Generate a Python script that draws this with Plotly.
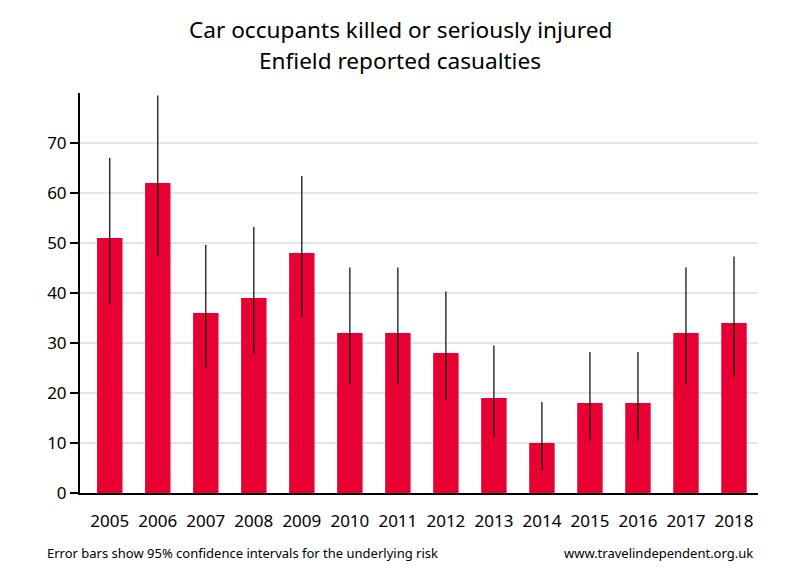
import plotly.graph_objects as go

years = ["2005", "2006", "2007", "2008", "2009", "2010", "2011", "2012",
         "2013", "2014", "2015", "2016", "2017", "2018"]
casualties = [51, 62, 36, 39, 48, 32, 32, 28, 19, 10, 18, 18, 32, 34]
ci_upper = [67.0, 79.5, 49.6, 53.2, 63.4, 45.1, 45.1, 40.3, 29.5, 18.2, 28.2, 28.2, 45.1, 47.3]
ci_lower = [37.8, 47.3, 25.1, 27.7, 35.2, 21.7, 21.7, 18.5, 11.1, 4.5, 10.5, 10.5, 21.7, 23.3]

err_plus = [u - v for u, v in zip(ci_upper, casualties)]
err_minus = [v - l for v, l in zip(casualties, ci_lower)]

FONT = "Noto Sans"

fig = go.Figure()
fig.add_trace(go.Bar(
    x=list(range(len(years))),
    y=casualties,
    width=0.53,
    marker=dict(color="#E80032", line=dict(width=0)),
    error_y=dict(type="data", symmetric=False, array=err_plus, arrayminus=err_minus,
                 color="black", thickness=1.2, width=0),
    hoverinfo="x+y",
))

fig.update_layout(
    width=800, height=580,
    margin=dict(l=72, r=50, t=85, b=95),
    paper_bgcolor="white", plot_bgcolor="white",
    showlegend=False,
    font=dict(family=FONT, color="black"),
    xaxis=dict(
        tickmode="array", tickvals=list(range(len(years))), ticktext=years,
        range=[-0.62, 13.5],
        showline=True, linecolor="black", linewidth=2,
        showgrid=False, zeroline=False,
        ticks="outside", ticklen=12, tickcolor="rgba(0,0,0,0)",
        tickfont=dict(family=FONT, size=17, color="black"),
        fixedrange=True,
    ),
    yaxis=dict(
        range=[0, 80], tickmode="array", tickvals=[0, 10, 20, 30, 40, 50, 60, 70],
        showline=True, linecolor="black", linewidth=2,
        showgrid=True, gridcolor="#e6e6e6", gridwidth=2,
        zeroline=False,
        ticks="outside", ticklen=8, tickwidth=2, tickcolor="black",
        tickfont=dict(family=FONT, size=17, color="black"),
        fixedrange=True,
    ),
    annotations=[
        dict(text="Car occupants killed or seriously injured",
             xref="paper", yref="paper", x=0.472, y=1.16, xanchor="center", yanchor="middle",
             showarrow=False, font=dict(family=FONT, size=22.6, color="black")),
        dict(text="Enfield reported casualties",
             xref="paper", yref="paper", x=0.472, y=1.08, xanchor="center", yanchor="middle",
             showarrow=False, font=dict(family=FONT, size=22.6, color="black")),
        dict(text="Error bars show 95% confidence intervals for the underlying risk",
             xref="paper", yref="paper", x=-0.0516, y=-0.15, xanchor="left", yanchor="middle",
             showarrow=False, font=dict(family=FONT, size=13, color="black")),
        dict(text="www.travelindependent.org.uk",
             xref="paper", yref="paper", x=0.9956, y=-0.15, xanchor="right", yanchor="middle",
             showarrow=False, font=dict(family=FONT, size=13, color="black")),
    ],
)

fig.write_html("out.html")
